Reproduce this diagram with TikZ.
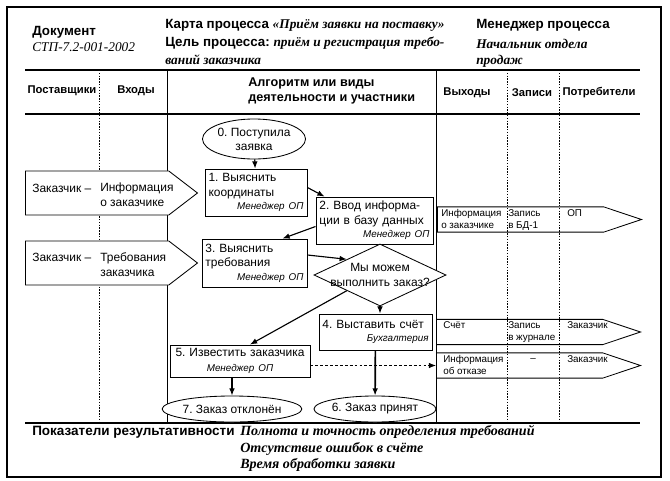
\documentclass[tikz,border=0pt]{standalone}
\usepackage{fontspec}
\setmainfont{Liberation Serif}
\setsansfont{Liberation Sans}
\usetikzlibrary{arrows.meta, positioning, calc, shapes.geometric, shapes.symbols}

\newcommand{\fs}[2]{\fontsize{#1}{#2}\selectfont}
\newcommand{\role}[1]{\\[-1pt]\hspace*{\fill}{\fs{7}{8}\itshape #1}}

\begin{document}
\frenchspacing
\begin{tikzpicture}[
    x=0.025cm, y=-0.025cm,
    box/.style={rectangle, draw=black, fill=white, line width=0.6pt, align=left, inner sep=2.5pt, font=\sffamily\fs{8.5}{10.5}},
    term/.style={ellipse, draw=black, fill=white, line width=0.6pt, align=center, inner sep=0pt, font=\sffamily\fs{8.5}{10}},
    decision/.style={diamond, draw=black, fill=white, line width=0.6pt, inner sep=0pt, minimum width=3.3cm, minimum height=1.55cm},
    inflow/.style={signal, signal to=east, draw=black, fill=white, line width=0.6pt, inner sep=0pt, signal pointer angle=75, minimum width=4.3cm, minimum height=1.1cm},
    outflow/.style={signal, signal to=east, draw=black, line width=0.6pt, inner sep=0pt, signal pointer angle=37, minimum width=5.1cm, minimum height=0.63cm},
    intext/.style={anchor=west, align=left, inner sep=0pt, font=\sffamily\fs{8.5}{10.5}},
    outtext/.style={anchor=north west, align=left, inner sep=0pt, font=\sffamily\fs{7}{8.5}},
    headtext/.style={anchor=west, inner sep=0pt, font=\sffamily\bfseries\fs{9.5}{11}},
    serifit/.style={anchor=west, inner sep=0pt, font=\rmfamily\bfseries\itshape\fs{9.5}{11}},
    colhead/.style={inner sep=0pt, font=\sffamily\bfseries\fs{8}{10}},
    kpi/.style={anchor=west, inner sep=0pt, font=\rmfamily\bfseries\itshape\fs{10}{12}},
    line/.style={draw=black, line width=0.8pt, -{Latex[length=1.8mm, width=1.4mm]}},
    colsep/.style={draw=black, line width=0.4pt, dash pattern=on 1pt off 1pt},
    frameline/.style={draw=black, line width=0.8pt}
]
    \fill[white] (0,0) rectangle (670,480);
    \useasboundingbox (0,0) rectangle (670,480);

    % Frame and table rules
    \draw[frameline, line width=0.9pt] (7,7) rectangle (661,477);
    \draw[frameline] (25,70) -- (640,70);
    \draw[frameline] (25,114) -- (640,114);
    \draw[frameline] (25,423) -- (640,423);
    \draw[frameline, line width=0.6pt] (167,70) -- (167,423);
    \draw[frameline, line width=0.6pt] (436,70) -- (436,423);
    \foreach \x in {99, 507, 559}
        \draw[colsep] (\x,70) -- (\x,423);

    % Header
    \node[headtext] (DOC) at (32,32) {Документ};
    \node[serifit, font=\rmfamily\itshape\fs{9.5}{11}] (DOCNO) at (32,47) {СТП-7.2-001-2002};
    \node[headtext] (MAP) at (165,25) {Карта процесса {\rmfamily\itshape «Приём заявки на поставку»}};
    \node[headtext] (GOAL) at (165,43) {Цель процесса: {\rmfamily\itshape приём и регистрация требо-}};
    \node[serifit] (GOAL2) at (165,60) {ваний заказчика};
    \node[headtext] (MGR) at (476,25) {Менеджер процесса};
    \node[serifit] (MGR2) at (476,44) {Начальник отдела};
    \node[serifit] (MGR3) at (476,61) {продаж};

    % Column heads
    \node[colhead] (H1) at (62,91) {Поставщики};
    \node[colhead] (H2) at (136,91) {Входы};
    \node[colhead, anchor=west, align=left, font=\sffamily\bfseries\fs{9}{11}] (H3) at (248,91) {Алгоритм или виды\\деятельности и участники};
    \node[colhead] (H4) at (467,93) {Выходы};
    \node[colhead] (H5) at (532,93) {Записи};
    \node[colhead] (H6) at (599,93) {Потребители};

    % Inputs
    \node[inflow, anchor=west] (IN1) at (25,193) {};
    \node[intext] (IN1a) at (32,188) {Заказчик –};
    \node[intext] (IN1b) at (100,195) {Информация\\о заказчике};
    \node[inflow, anchor=west] (IN2) at (25,263) {};
    \node[intext] (IN2a) at (32,257) {Заказчик –};
    \node[intext] (IN2b) at (100,265) {Требования\\заказчика};

    % Process flow
    \node[term, minimum width=2.25cm, minimum height=1.0cm] (E0) at (254,139) {0. Поступила\\заявка};
    \node[box, text width=2.374cm, minimum height=1.175cm] (B1) at (256,192.5) {1. Выяснить\\координаты\role{Менеджер ОП}};
    \node[box, text width=2.75cm, minimum height=1.175cm] (B2) at (374.5,220.5) {2. Ввод информа-\\ции в базу данных\role{Менеджер ОП}};
    \node[box, text width=2.45cm, minimum height=1.2cm] (B3) at (254.5,263) {3. Выяснить\\требования\role{Менеджер ОП}};
    \node[decision, label={[align=center, font=\sffamily\fs{8.5}{10.5}]center:Мы можем\\выполнить заказ?}] (D) at (380,275) {};
    \node[box, text width=2.65cm, minimum height=0.9cm] (B4) at (375.5,332) {4. Выставить счёт\role{Бухгалтерия}};
    \node[box, align=center, text width=3.32cm, minimum height=0.75cm] (B5) at (240,361) {5. Известить заказчика\\{\fs{7}{8}\itshape Менеджер ОП}};
    \node[term, minimum width=3.0cm, minimum height=0.65cm] (E7) at (232,409) {7. Заказ отклонён};
    \node[term, minimum width=2.8cm, minimum height=0.65cm] (E6) at (375,409) {6. Заказ принят};

    % Outputs
    \node[outflow, anchor=west] (OUT1) at (437,219.5) {};
    \node[outtext] (OUT1a) at (441,209) {Информация\\о заказчике};
    \node[outtext] (OUT1b) at (508,209) {Запись\\в БД-1};
    \node[outtext] (OUT1c) at (567,209) {ОП};
    \node[outflow, anchor=west] (OUT2) at (436,332) {};
    \node[outtext] (OUT2a) at (443,321) {Счёт};
    \node[outtext] (OUT2b) at (508,321) {Запись\\в журнале};
    \node[outtext] (OUT2c) at (567,321) {Заказчик};
    \node[outflow, anchor=west] (OUT3) at (436,365.5) {};
    \node[outtext] (OUT3a) at (443,355) {Информация\\об отказе};
    \node[outtext, anchor=west] (OUT3b) at (530,360) {–};
    \node[outtext] (OUT3c) at (567,355) {Заказчик};

    % Connectors
    \draw[line] (E0) -- (B1);
    \draw[line] ($(B1.east)+(0,-5)$) -- ($(B2.north west)+(9,0)$);
    \draw[line] ($(B2.west)+(0,6)$) -- ($(B3.north east)+(-25,0)$);
    \draw[line] ($(B3.east)+(0,-8)$) -- (D.north west);
    \draw[line] (D.south west) -- ($(B5.north)+(10,0)$);
    \draw[line] (D.south) -- (D.south |- B4.north);
    \draw[line, line width=1.2pt] (B4) -- (E6);
    \draw[line] (E7 |- B5.south) -- (E7.north);
    \draw[line, line width=0.6pt, dash pattern=on 2pt off 1.5pt] (B5.east |- OUT3.west) -- (OUT3.west);

    % Performance indicators
    \node[headtext, font=\sffamily\bfseries\fs{9.6}{12}] (KPI) at (32,432) {Показатели результативности};
    \node[kpi] (KPI1) at (240,432) {Полнота и точность определения требований};
    \node[kpi] (KPI2) at (240,449) {Отсутствие ошибок в счёте};
    \node[kpi] (KPI3) at (240,465) {Время обработки заявки};
\end{tikzpicture}
\end{document}
